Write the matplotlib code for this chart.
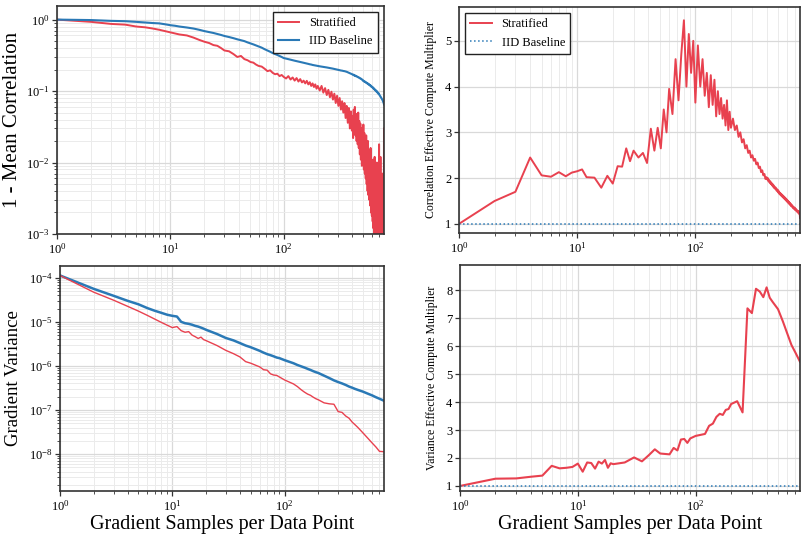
import numpy as np
import matplotlib
matplotlib.use("Agg")
import matplotlib.pyplot as plt

plt.rcParams['font.family'] = ['Liberation Serif', 'DejaVu Serif']
plt.rcParams['mathtext.fontset'] = 'stix'

RED = '#e8414f'
BLUE = '#2a79b6'

# sample counts for the correlation panels
x_corr = np.r_[1:13, 14:31:2, 33:61:3, 64:101:4, 105:201:5, 208:401:8, 405:766:5, 768]

corr_strat = [
    1.0, 0.93, 0.87, 0.85, 0.80, 0.78, 0.75, 0.72, 0.69, 0.665, 0.64, 0.62,
    0.60, 0.56, 0.52, 0.49, 0.47, 0.44, 0.43, 0.40, 0.37,
    0.36, 0.33, 0.30, 0.31, 0.28, 0.27, 0.255, 0.25, 0.235, 0.225,
    0.22, 0.205, 0.19, 0.195, 0.18, 0.172, 0.175, 0.162, 0.168, 0.158,
    0.150, 0.162, 0.145, 0.155, 0.140, 0.152, 0.136, 0.147, 0.132, 0.140,
    0.128, 0.139, 0.124, 0.133, 0.118, 0.128, 0.114, 0.124, 0.108, 0.118,
    0.102, 0.118, 0.095, 0.110, 0.088, 0.104, 0.082, 0.098, 0.076, 0.092,
    0.068, 0.086, 0.062, 0.080, 0.055, 0.072, 0.050, 0.068, 0.042, 0.062,
    0.036, 0.058, 0.030, 0.052, 0.028,
    0.045, 0.022, 0.055, 0.026, 0.060, 0.024, 0.048, 0.020, 0.042, 0.018,
    0.050, 0.016, 0.038, 0.013, 0.035, 0.011, 0.030, 0.009, 0.028,
    0.012, 0.034, 0.008, 0.026, 0.007, 0.022, 0.006, 0.024, 0.005, 0.018,
    0.004, 0.020, 0.0035, 0.015, 0.003, 0.012, 0.0025, 0.016, 0.002, 0.010,
    0.0018, 0.009, 0.0015, 0.011, 0.0012, 0.008, 0.0009, 0.012, 0.0011, 0.007,
    0.0008, 0.009, 0.0006, 0.010, 0.0009, 0.006, 0.0005, 0.008, 0.0007, 0.018,
    0.0004, 0.006, 0.0006, 0.012, 0.0003, 0.005, 0.0005, 0.004, 0.0002, 0.007,
    0.0004, 0.003, 0.0003, 0.002, 0.030,
]

corr_iid = [
    1.0, 0.985, 0.96, 0.95, 0.93, 0.91, 0.895, 0.885, 0.86, 0.835, 0.82, 0.80,
    0.775, 0.75, 0.72, 0.69, 0.67, 0.65, 0.63, 0.61, 0.59,
    0.57, 0.55, 0.53, 0.515, 0.50, 0.48, 0.465, 0.45, 0.435, 0.42,
    0.405, 0.385, 0.37, 0.355, 0.34, 0.33, 0.32, 0.31, 0.30, 0.29,
    0.285, 0.28, 0.275, 0.27, 0.266, 0.262, 0.259, 0.255, 0.252, 0.249,
    0.246, 0.243, 0.24, 0.237, 0.235, 0.232, 0.23, 0.228, 0.226, 0.224,
    0.222, 0.22, 0.218, 0.216, 0.214, 0.212, 0.21, 0.208, 0.206, 0.204,
    0.202, 0.200, 0.198, 0.196, 0.194, 0.193, 0.191, 0.19, 0.188, 0.186,
    0.183, 0.18, 0.177, 0.175, 0.172,
    0.171, 0.168, 0.169, 0.165, 0.166, 0.162, 0.163, 0.16, 0.16, 0.157,
    0.157, 0.154, 0.154, 0.151, 0.151, 0.148, 0.148, 0.145, 0.144,
    0.140, 0.140, 0.137, 0.137, 0.134, 0.135, 0.132, 0.132, 0.129, 0.130,
    0.127, 0.127, 0.124, 0.125, 0.122, 0.122, 0.119, 0.120, 0.116, 0.117,
    0.114, 0.114, 0.111, 0.112, 0.108, 0.109, 0.106, 0.106, 0.103, 0.104,
    0.101, 0.101, 0.098, 0.099, 0.096, 0.096, 0.093, 0.094, 0.091, 0.091,
    0.088, 0.087, 0.085, 0.084, 0.082, 0.081, 0.079, 0.078, 0.076, 0.075,
    0.073, 0.071, 0.069, 0.067, 0.065,
]

corr_mult = [
    1.0, 1.5, 1.7, 2.45, 2.06, 2.03, 2.13, 2.04, 2.12, 2.15, 2.19, 2.02,
    2.01, 1.79, 2.05, 1.88, 2.26, 2.25, 2.65, 2.37, 2.6,
    2.45, 2.55, 2.33, 3.08, 2.6, 3.1, 2.65, 3.5, 3.0, 3.95,
    3.4, 4.6, 3.7, 4.7, 5.45, 4.0, 5.15, 4.3, 5.0, 3.65,
    4.9, 4.0, 4.6, 3.8, 4.3, 3.55, 4.25, 3.6, 4.15, 3.35,
    3.9, 3.4, 3.75, 3.3, 3.6, 3.15, 3.7, 3.05, 3.45, 3.1,
    3.3, 3.05, 3.15, 2.9, 3.0, 2.78, 2.85, 2.65, 2.72, 2.55,
    2.6, 2.45, 2.5, 2.38, 2.42, 2.3, 2.34, 2.22, 2.25, 2.13,
    2.17, 2.06, 2.09, 1.98, 2.02,
    1.97, 2.0, 1.93, 1.96, 1.9, 1.93, 1.87, 1.9, 1.84, 1.87,
    1.81, 1.84, 1.78, 1.81, 1.76, 1.79, 1.73, 1.76, 1.71,
    1.74, 1.68, 1.71, 1.65, 1.68, 1.63, 1.66, 1.61, 1.64, 1.59,
    1.62, 1.57, 1.6, 1.55, 1.58, 1.53, 1.56, 1.51, 1.54, 1.49,
    1.52, 1.47, 1.5, 1.45, 1.48, 1.43, 1.46, 1.41, 1.44, 1.39,
    1.42, 1.38, 1.4, 1.36, 1.38, 1.34, 1.37, 1.33, 1.35, 1.31,
    1.34, 1.3, 1.32, 1.28, 1.3, 1.27, 1.29, 1.25, 1.28, 1.24,
    1.26, 1.22, 1.24, 1.2, 1.13,
]

# sample counts for the variance panels
x_var = [1, 2, 3, 4, 5, 6, 7, 8, 9, 10, 11, 12, 13, 14, 15, 16, 17, 18, 19, 20,
         25, 30, 35, 40, 45, 50, 60, 65, 70, 75, 80, 85, 90, 100,
         120, 130, 140, 150, 160, 170, 180, 190, 200,
         225, 250, 275, 300, 325, 350, 375, 400, 425, 450,
         500, 550, 600, 650, 700, 768]

var_iid = [1.13e-4, 5.6e-5, 3.9e-5, 3.0e-5, 2.5e-5, 2.05e-5, 1.78e-5, 1.6e-5, 1.45e-5, 1.37e-5,
           1.32e-5, 1.0e-5, 9.3e-6, 9.0e-6, 8.6e-6, 8.1e-6, 7.8e-6, 7.4e-6, 7.0e-6, 6.6e-6,
           5.3e-6, 4.3e-6, 3.8e-6, 3.3e-6, 2.9e-6, 2.65e-6, 2.2e-6, 2.0e-6, 1.85e-6, 1.75e-6,
           1.65e-6, 1.55e-6, 1.5e-6, 1.35e-6,
           1.15e-6, 1.05e-6, 9.8e-7, 9.2e-7, 8.6e-7, 8.1e-7, 7.6e-7, 7.2e-7, 6.9e-7,
           6.0e-7, 5.3e-7, 4.7e-7, 4.3e-7, 4.0e-7, 3.7e-7, 3.4e-7, 3.2e-7, 3.0e-7, 2.85e-7,
           2.6e-7, 2.35e-7, 2.15e-7, 1.95e-7, 1.8e-7, 1.62e-7]

var_strat = [1.13e-4, 4.7e-5, 3.1e-5, 2.25e-5, 1.75e-5, 1.4e-5, 1.15e-5, 9.7e-6, 8.4e-6, 7.4e-6,
             7.8e-6, 6.3e-6, 5.8e-6, 6.0e-6, 5.0e-6, 4.6e-6, 4.2e-6, 4.5e-6, 3.95e-6, 3.75e-6,
             2.9e-6, 2.25e-6, 1.9e-6, 1.6e-6, 1.25e-6, 1.15e-6, 9.5e-7, 8.2e-7, 8.0e-7, 6.6e-7,
             6.2e-7, 6.1e-7, 5.6e-7, 4.8e-7,
             3.9e-7, 3.4e-7, 2.9e-7, 2.55e-7, 2.3e-7, 2.15e-7, 1.95e-7, 1.8e-7, 1.7e-7,
             1.45e-7, 1.38e-7, 1.35e-7, 9.2e-8, 8.8e-8, 7.3e-8, 6.5e-8, 5.3e-8, 4.6e-8, 4.0e-8,
             3.0e-8, 2.3e-8, 1.8e-8, 1.45e-8, 1.15e-8, 1.13e-8]

var_mult = [1.0, 1.26, 1.27, 1.33, 1.37, 1.72, 1.63, 1.65, 1.68, 1.80,
            1.51, 1.84, 1.82, 1.62, 1.87, 1.80, 1.93, 1.65, 1.81, 1.78,
            1.84, 2.02, 1.88, 2.10, 2.31, 2.16, 2.13, 2.36, 2.27, 2.66,
            2.68, 2.54, 2.70, 2.79,
            2.86, 3.15, 3.23, 3.47, 3.58, 3.54, 3.72, 3.75, 3.93,
            4.03, 3.63, 7.35, 7.18, 8.05, 7.95, 7.75, 8.1, 7.73, 7.58,
            7.32, 6.88, 6.44, 6.04, 5.78, 5.44]

W, H = 807, 537
fig = plt.figure(figsize=(W / 100, H / 100), dpi=100)


def box(l, r, t, b):
    return [l / W, 1 - b / H, (r - l) / W, (b - t) / H]


ax1 = fig.add_axes(box(57, 384, 6, 234))
ax2 = fig.add_axes(box(459, 800, 7, 233))
ax3 = fig.add_axes(box(60, 384, 266, 491))
ax4 = fig.add_axes(box(460, 800, 265, 491))


def style(ax):
    ax.set_xscale('log')
    ax.set_xlim(1, 768)
    ax.grid(True, which='major', color='#d9d9d9', linewidth=0.9)
    ax.grid(True, which='minor', color='#ebebeb', linewidth=0.7)
    ax.set_axisbelow(True)
    for s in ax.spines.values():
        s.set_color('#333333')
        s.set_linewidth(1.2)
    ax.tick_params(which='major', length=3.5, width=0.9, labelsize=9, color='#333333', pad=2)
    ax.tick_params(which='minor', length=2, width=0.6, color='#333333')


leg_kw = dict(fontsize=9, fancybox=False, edgecolor='#222222', framealpha=1,
              borderpad=0.4, handlelength=1.7)

# 1 - mean correlation
ax1.plot(x_corr, corr_strat, color=RED, lw=1.4, label='Stratified')
ax1.plot(x_corr, corr_iid, color=BLUE, lw=1.5, label='IID Baseline')
ax1.set_yscale('log')
ax1.set_ylim(1e-3, 1.55)
ax1.set_ylabel('1 - Mean Correlation', fontsize=15, labelpad=3)
ax1.legend(loc='upper right', **leg_kw)
style(ax1)

# correlation multiplier
ax2.plot(x_corr, corr_mult, color=RED, lw=1.4, label='Stratified')
ax2.axhline(1, color=BLUE, lw=1.1, ls=':', label='IID Baseline')
ax2.set_ylim(0.8, 5.74)
ax2.set_ylabel('Correlation Effective Compute Multiplier', fontsize=8.5, labelpad=6)
ax2.legend(loc='upper left', **leg_kw)
style(ax2)

# gradient variance
ax3.plot(x_var, var_iid, color=BLUE, lw=1.8)
ax3.plot(x_var, var_strat, color=RED, lw=1.0)
ax3.set_yscale('log')
ax3.set_ylim(1.45e-9, 1.85e-4)
ax3.set_ylabel('Gradient Variance', fontsize=13.5, labelpad=5)
ax3.set_xlabel('Gradient Samples per Data Point', fontsize=14.5, labelpad=1)
style(ax3)

# variance multiplier
ax4.plot(x_var, var_mult, color=RED, lw=1.5)
ax4.axhline(1, color=BLUE, lw=1.1, ls=':')
ax4.set_ylim(0.82, 8.9)
ax4.set_ylabel('Variance Effective Compute Multiplier', fontsize=8.5, labelpad=6)
ax4.set_xlabel('Gradient Samples per Data Point', fontsize=14.5, labelpad=1)
style(ax4)

fig.savefig('out.png', dpi=100)
